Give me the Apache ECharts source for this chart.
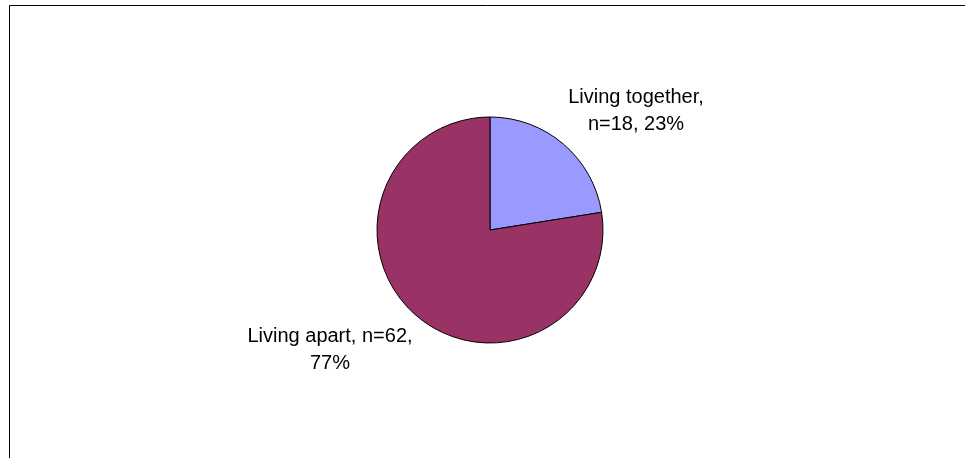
<!DOCTYPE html>
<html>
<head>
<meta charset="utf-8">
<script src="https://cdn.jsdelivr.net/npm/echarts@6/dist/echarts.min.js"></script>
<style>
  html, body { margin: 0; padding: 0; background: #fff; }
  #chart { width: 965px; height: 458px; }
</style>
</head>
<body>
<div id="chart"></div>
<script>
// Household arrangement of respondents
const categories = ['Living together', 'Living apart'];
const counts = [18, 62];
const sliceColors = ['#9999FF', '#993366'];

// Label anchor points (px) per slice
const labelAnchors = [[636, 111], [330, 350]];

const chart = echarts.init(document.getElementById('chart'), null, { renderer: 'canvas' });

const data = categories.map((name, i) => ({
  name: name,
  value: counts[i],
  itemStyle: { color: sliceColors[i] }
}));

chart.setOption({
  animation: false,
  backgroundColor: '#ffffff',
  graphic: [{
    type: 'rect',
    shape: { x: 9.5, y: 5.5, width: 1000, height: 500 },
    style: { fill: 'none', stroke: '#000', lineWidth: 1 },
    silent: true
  }],
  series: [{
    type: 'pie',
    center: [490, 230],
    radius: 113,
    startAngle: 90,
    clockwise: true,
    percentPrecision: 0,
    data: data,
    itemStyle: { borderColor: '#000', borderWidth: 1 },
    label: {
      show: true,
      position: 'outside',
      color: '#000',
      fontFamily: 'Liberation Sans, Arial, sans-serif',
      fontSize: 20,
      lineHeight: 27,
      align: 'center',
      formatter: function (p) {
        if (p.dataIndex === 0) {
          return p.name + ',\nn=' + p.value + ', ' + p.percent + '%';
        }
        return p.name + ', n=' + p.value + ',\n' + p.percent + '%';
      }
    },
    labelLine: { show: false },
    labelLayout: function (params) {
      const a = labelAnchors[params.dataIndex];
      return { x: a[0], y: a[1], align: 'center', verticalAlign: 'middle' };
    },
    emphasis: { disabled: true }
  }]
});
</script>
</body>
</html>
